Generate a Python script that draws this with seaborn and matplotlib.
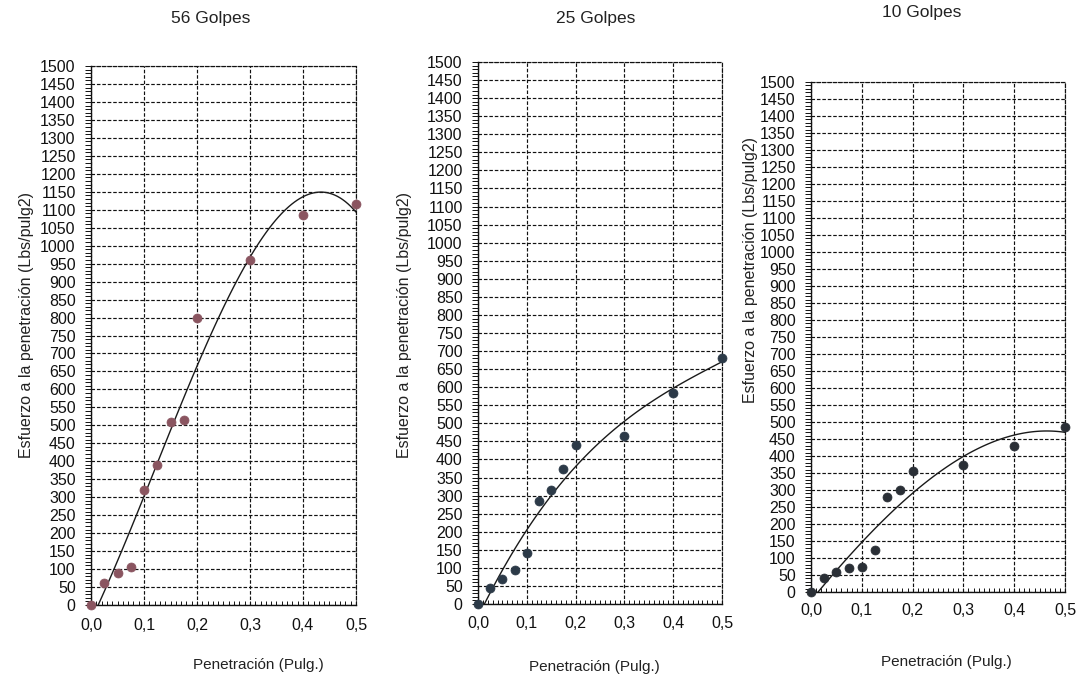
import numpy as np
import pandas as pd
import matplotlib
matplotlib.use("Agg")
import matplotlib.pyplot as plt
import seaborn as sns
from matplotlib.ticker import MultipleLocator, FuncFormatter

# ---- data ----
penetracion = [0.0, 0.025, 0.05, 0.075, 0.1, 0.125, 0.15, 0.175, 0.2, 0.3, 0.4, 0.5]
esfuerzo_56 = [0, 60, 90, 105, 320, 390, 510, 515, 800, 960, 1085, 1115]
esfuerzo_25 = [0, 45, 70, 95, 140, 285, 315, 375, 440, 465, 585, 680]
esfuerzo_10 = [0, 40, 60, 70, 75, 125, 280, 300, 355, 375, 430, 485]
titulos = ["56 Golpes", "25 Golpes", "10 Golpes"]
x_ticks = [0.0, 0.1, 0.2, 0.3, 0.4, 0.5]
y_ticks = list(range(0, 1501, 50))

sns.set_style("ticks")
plt.rcParams["font.family"] = ["Liberation Sans", "DejaVu Sans"]

fig = plt.figure(figsize=(10.83, 6.78), dpi=100)
W, H = 1083, 678

# panel boxes in pixels: left, right, top, bottom
boxes = [(91, 356, 66, 605), (478, 722, 62, 604), (811, 1065, 82, 592)]
colors = ["#8a5560", "#2c3a48", "#2a2f36"]
orders = [3, 3, 3]
series = [esfuerzo_56, esfuerzo_25, esfuerzo_10]
title_pos = [(211, 18), (596, 18), (922, 12)]
xlabel_pos = [(258, 665), (594, 667), (946, 662)]
ylabel_pos = [(27, 325), (405, 325), (750, 270)]
xpads = [9, 9, 8]

fmt = FuncFormatter(lambda v, p: f"{v:.1f}".replace(".", ","))

for i in range(3):
    l, r, t, b = boxes[i]
    ax = fig.add_axes([l / W, 1 - b / H, (r - l) / W, (b - t) / H])
    df = pd.DataFrame({"Penetracion": penetracion, "Esfuerzo": series[i]})
    ax.grid(True, which="major", color="#111111", linestyle=(0, (3, 1.6)), linewidth=0.85)
    ax.set_axisbelow(True)
    sns.regplot(data=df, x="Penetracion", y="Esfuerzo", order=orders[i], ci=None,
                scatter=False, line_kws=dict(color="#1a1a1a", lw=1.0), ax=ax)
    sns.scatterplot(data=df, x="Penetracion", y="Esfuerzo", color=colors[i], s=42,
                    edgecolor=colors[i], linewidth=0.5, ax=ax, clip_on=False, zorder=5)
    ax.set_xlim(0, 0.5)
    ax.set_ylim(0, 1500)
    ax.set_xticks(x_ticks)
    ax.xaxis.set_major_formatter(fmt)
    ax.set_yticks(y_ticks)
    ax.xaxis.set_minor_locator(MultipleLocator(0.01))
    ax.yaxis.set_minor_locator(MultipleLocator(10))
    ax.tick_params(axis="x", which="both", direction="in", length=3, width=0.7,
                   labelsize=11.5, pad=xpads[i], colors="#111111")
    ax.tick_params(axis="y", which="both", direction="out", length=4, width=0.7,
                   labelsize=11.5, pad=7, colors="#111111")
    ax.set_xlabel("")
    ax.set_ylabel("")
    for s in ["left", "bottom"]:
        ax.spines[s].set_color("#111111")
        ax.spines[s].set_linewidth(1.0)
    for s in ["top", "right"]:
        ax.spines[s].set_linestyle((0, (3, 1.6)))
        ax.spines[s].set_color("#111111")
        ax.spines[s].set_linewidth(0.85)
    tx, ty = title_pos[i]
    fig.text(tx / W, 1 - ty / H, titulos[i], ha="center", va="center", fontsize=12.5, color="#222222")
    xx, xy = xlabel_pos[i]
    fig.text(xx / W, 1 - xy / H, "Penetración (Pulg.)", ha="center", va="center",
             fontsize=11, color="#222222")
    yx, yy = ylabel_pos[i]
    fig.text(yx / W, 1 - yy / H, "Esfuerzo a la penetración (Lbs/pulg2)", ha="center",
             va="center", rotation=90, fontsize=11.5, color="#222222")

fig.savefig("out.png", dpi=100)
